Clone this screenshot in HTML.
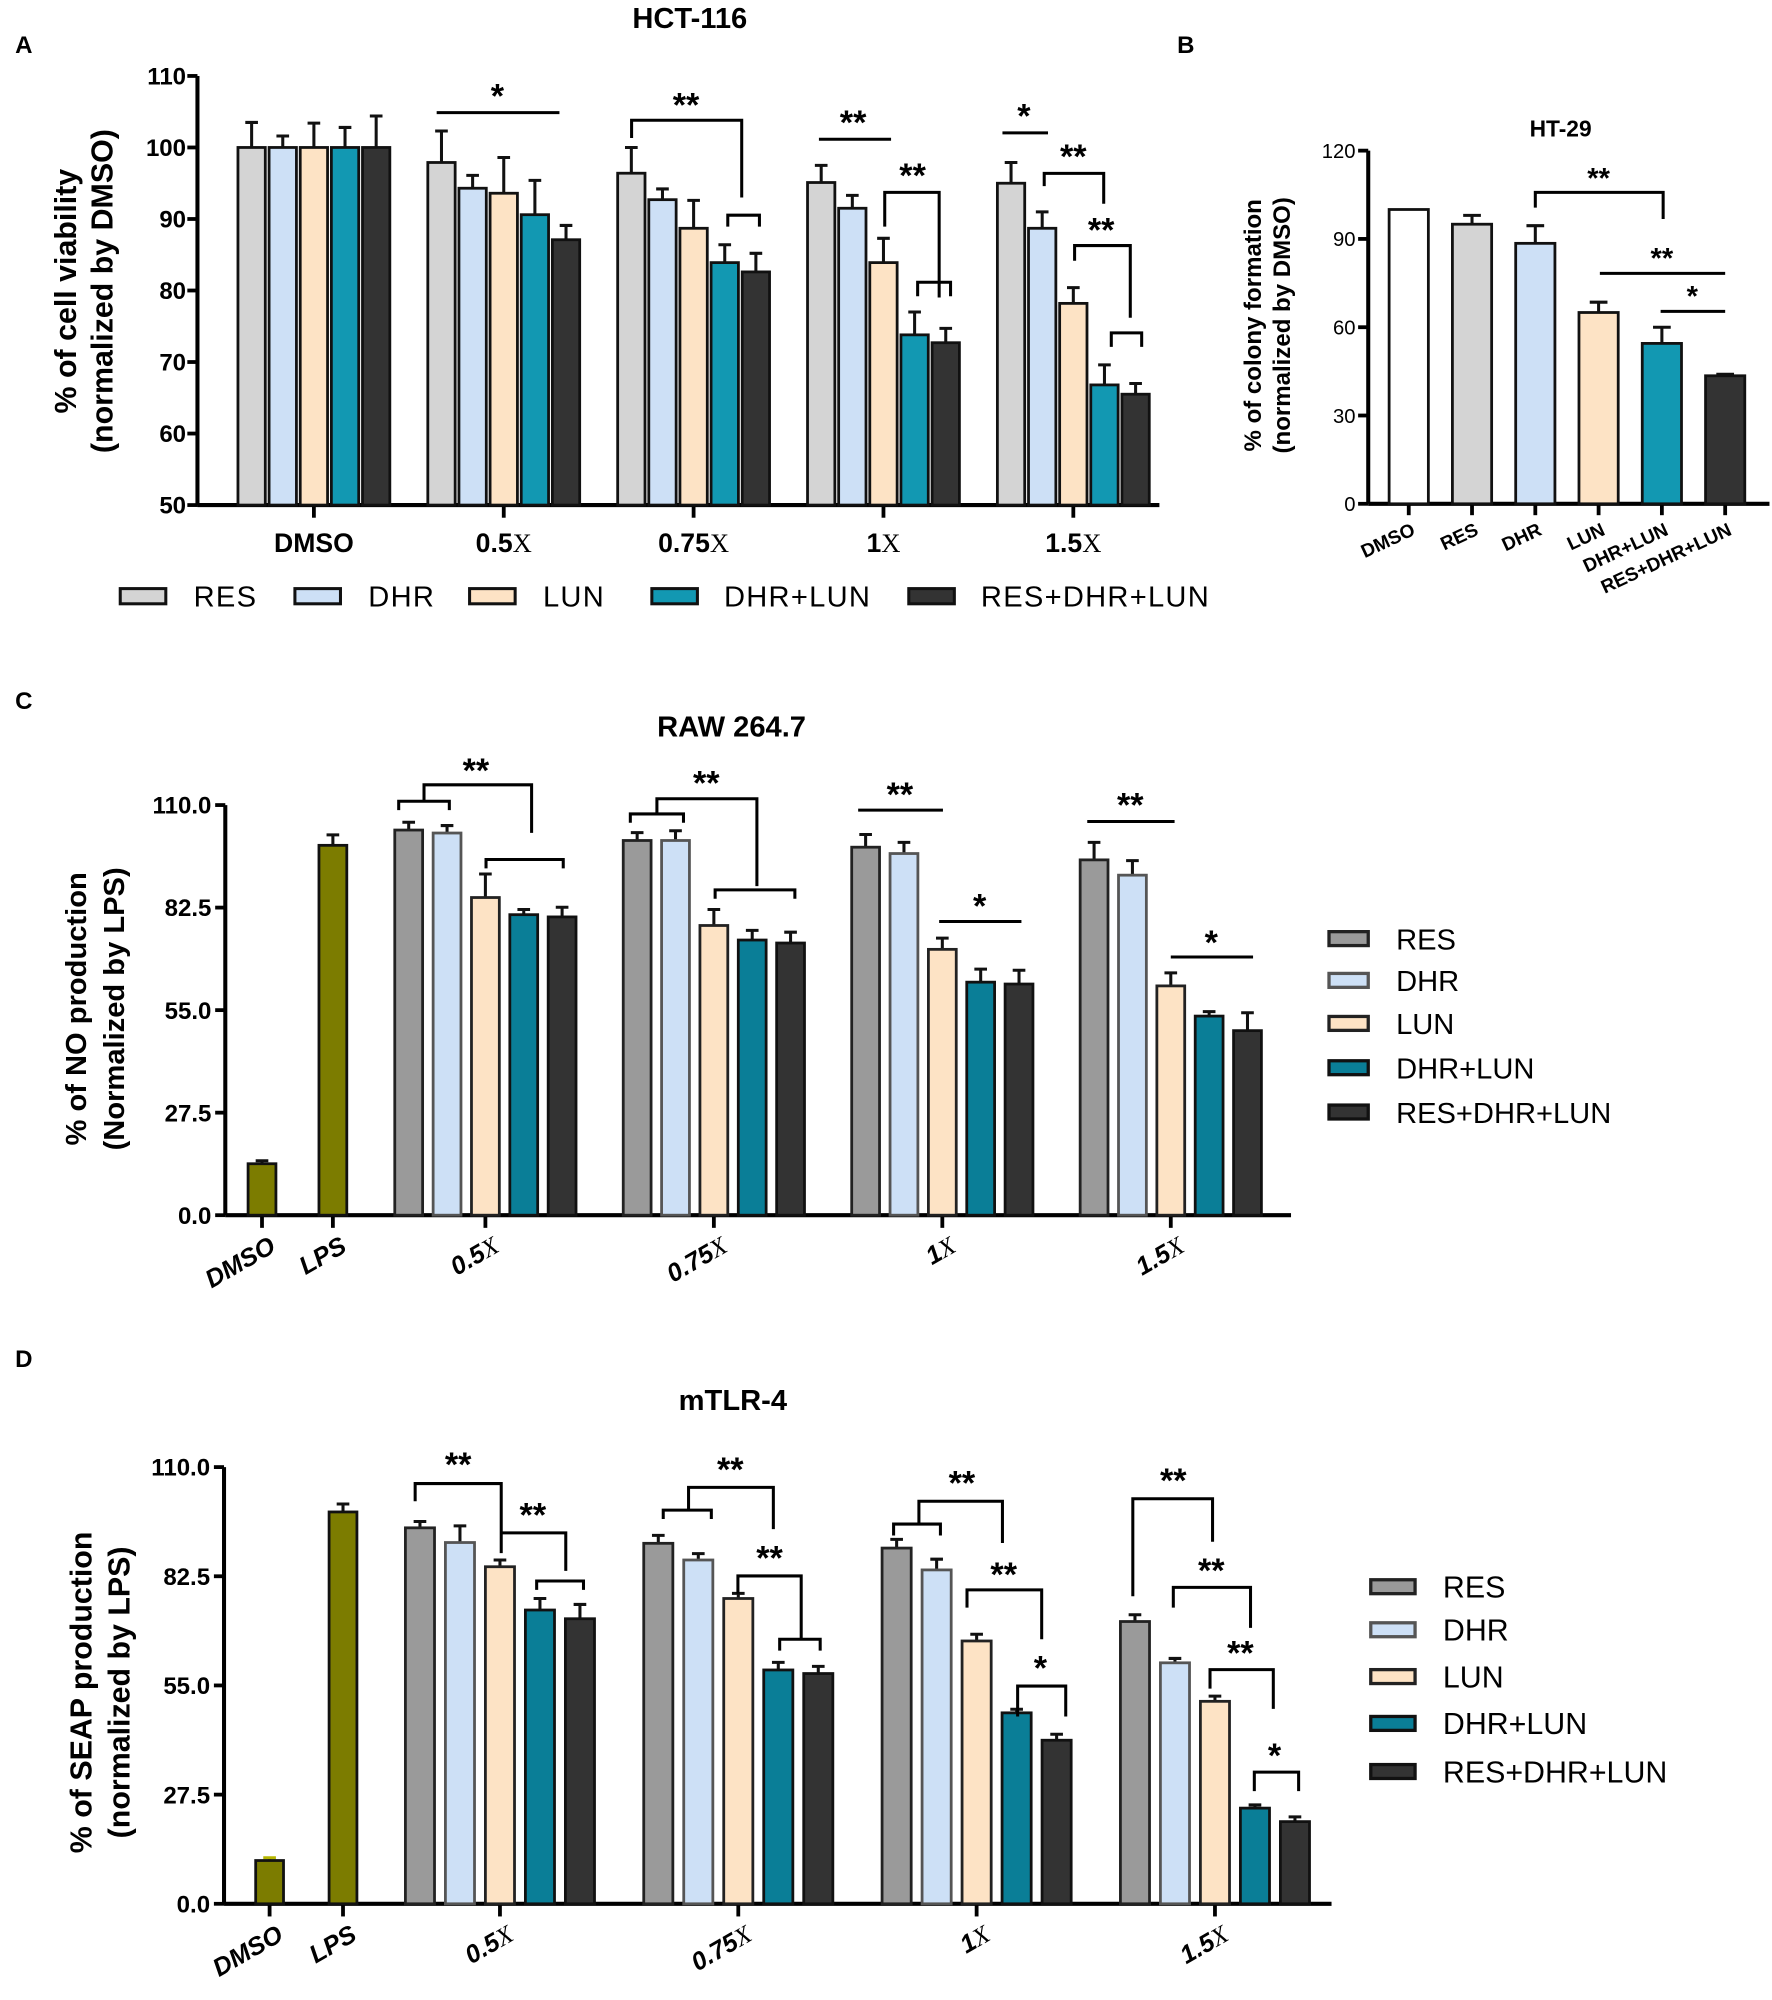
<!DOCTYPE html>
<html><head><meta charset="utf-8"><title>Figure</title>
<style>
html,body{margin:0;padding:0;background:#fff;}
svg{display:block;}
text{font-family:"Liberation Sans",sans-serif;}
</style></head>
<body>
<svg id="fig" xmlns="http://www.w3.org/2000/svg" viewBox="0 0 1400 1580" width="1772" height="2000" preserveAspectRatio="none"></svg>
<script>
// ---------- DATA ----------
const seriesNames = ['RES','DHR','LUN','DHR+LUN','RES+DHR+LUN'];
// Panel A: HCT-116 cell viability
const aGroups = ['DMSO','0.5','0.75','1','1.5'];
const aRES = [100,97.9,96.4,95.1,95];
const aDHR = [100,94.3,92.7,91.5,88.7];
const aLUN = [100,93.6,88.7,83.9,78.2];
const aDL  = [100,90.6,83.9,73.8,66.8];
const aRDL = [100,87.1,82.6,72.7,65.5];
const aRESsd = [3.5,4.4,3.6,2.4,2.9];
const aDHRsd = [1.6,1.8,1.5,1.8,2.3];
const aLUNsd = [3.4,5.0,3.9,3.4,2.2];
const aDLsd  = [2.8,4.8,2.5,3.2,2.8];
const aRDLsd = [4.4,2.0,2.6,2.0,1.5];
const aTicks = [50,60,70,80,90,100,110];
// Panel B: HT-29 colony formation
const bCats = ['DMSO','RES','DHR','LUN','DHR+LUN','RES+DHR+LUN'];
const bVals = [100,95,88.5,65,54.5,43.5];
const bSd   = [0,3,6,3.5,5.5,0.5];
const bTicks = [0,30,60,90,120];
// Panel C: RAW 264.7 NO production
const cCtrlCats = ['DMSO','LPS'];
const cCtrl = [13.8,99.2];
const cCtrlSd = [0.8,2.8];
const cGroups = ['0.5','0.75','1','1.5'];
const cRES = [103.3,100.5,98.7,95.3];
const cDHR = [102.5,100.5,97,91.2];
const cLUN = [85.2,77.7,71.3,61.5];
const cDL  = [80.6,73.8,62.5,53.4];
const cRDL = [80,73,62,49.5];
const cRESsd = [2.1,2.1,3.4,4.7];
const cDHRsd = [2,2.6,3,3.9];
const cLUNsd = [6.3,4.3,3,3.5];
const cDLsd  = [1.4,2.6,3.5,1.2];
const cRDLsd = [2.6,2.9,3.7,4.8];
const cTicks = [0,27.5,55,82.5,110];
// Panel D: mTLR-4 SEAP
const dCtrlCats = ['DMSO','LPS'];
const dCtrl = [10.9,98.7];
const dCtrlSd = [0.7,2];
const dGroups = ['0.5','0.75','1','1.5'];
const dRES = [94.7,90.8,89.6,71.1];
const dDHR = [91,86.6,84.1,60.7];
const dLUN = [84.9,76.9,66.2,51];
const dDL  = [74,58.9,48.1,24.1];
const dRDL = [71.8,58,41.2,20.7];
const dRESsd = [1.6,2,2.2,1.7];
const dDHRsd = [4.2,1.6,2.7,1.1];
const dLUNsd = [1.7,1.3,1.7,1.3];
const dDLsd  = [2.9,1.9,0.9,0.8];
const dRDLsd = [3.6,1.8,1.5,1.2];
const dTicks = [0,27.5,55,82.5,110];

// ---------- DRAWING ----------
const NS='http://www.w3.org/2000/svg';
const svg=document.getElementById('fig');
function el(tag,attrs,parent){const e=document.createElementNS(NS,tag);for(const k in attrs)e.setAttribute(k,attrs[k]);(parent||svg).appendChild(e);return e;}
function txt(s,attrs,parent){const e=el('text',attrs,parent);e.textContent=s;return e;}
function gGroup(name,parent){const g=el('g',{},parent);


return g;}
const colA=['#d4d4d4','#cde0f6','#fde3c5','#1298b2','#333333'];
const colC=['#9a9a9a','#cde0f6','#fde3c5','#0a7e97','#333333'];
const strokeC=['#222','#555','#222','#111','#111'];
const OLIVE='#7c7c00';

function bar(g,cx,w,yv,y0,fill,stroke,name){
  const r=el('rect',{x:cx-w/2,y:Math.min(yv,y0),width:w,height:Math.abs(y0-yv),fill:fill,stroke:stroke,'stroke-width':2.2},g);
  
  
  return r;
}
function errbar(g,cx,ytop,ycap,cap,color){
  if(Math.abs(ytop-ycap)<0.5){return;}
  const p=el('path',{d:`M${cx} ${ytop}V${ycap}M${cx-cap/2} ${ycap}H${cx+cap/2}`,stroke:color||'#111','stroke-width':2.4,fill:'none'},g);
  
  
}
function yAxis(g,x,yTopPx,y0Px,vMin,vMax,ticks,fmt,labX,fs,weight){
  const sy=v=>y0Px-(v-vMin)/(vMax-vMin)*(y0Px-yTopPx);
  const ax=el('path',{d:`M${x} ${yTopPx}V${y0Px}`,stroke:'#000','stroke-width':3.2},g);
  
  
  ticks.forEach(t=>{
    el('path',{d:`M${x-8} ${sy(t)}H${x}`,stroke:'#000','stroke-width':3},g);
    const l=txt(fmt(t),{x:labX,y:sy(t)+fs*0.36,'text-anchor':'end','font-size':fs,'font-weight':weight},g);
    
    
  });
  return sy;
}
function ast(g,s,x,cy,fs){const t=txt(s,{x:x,y:cy+fs*0.55,'text-anchor':'middle','font-size':fs,'font-weight':'bold'},g);

}
function ln(g,d){const p=el('path',{d:d,stroke:'#000','stroke-width':2.4,fill:'none'},g);

}
function yTitle(g,lines,cx,cy,fs,gap,weight){
  const t=el('text',{transform:`translate(${cx},${cy}) rotate(-90)`,'text-anchor':'middle','font-size':fs,'font-weight':weight},g);
  
  
  lines.forEach((s,i)=>{const ts=el('tspan',{x:0,y:(i-(lines.length-1)/2)*gap+fs*0.35},t);ts.textContent=s;});
}
function xLabX(g,num,x,y,fs,rot,italic,anchor){
  const t=el('text',{transform:`translate(${x},${y}) rotate(${rot})`,'text-anchor':anchor,'font-size':fs,'font-weight':'bold','font-style':italic?'italic':'normal'},g);
  
  
  const a=el('tspan',{},t);a.textContent=num;
  if(num!=='DMSO'&&num!=='LPS'){const b=el('tspan',{'font-family':'Liberation Serif, serif','font-weight':'normal'},t);b.textContent='X';}
}

// panel letters & titles
[['A',12,42],['B',930,42],['C',12,560],['D',12,1080]].forEach(([s,x,y])=>{const t=txt(s,{x:x,y:y,'font-size':19,'font-weight':'bold'});

});
[['HCT-116',545,22,23],['HT-29',1233,108,18],['RAW 264.7',578,582,23],['mTLR-4',579,1114,23]].forEach(([s,x,y,f])=>{const t=txt(s,{x:x,y:y,'font-size':f,'font-weight':'bold','text-anchor':'middle'});

});

// ===== Panel A =====
(function(){
  const g=gGroup('panel-a-chart');
  const X0=156,XEND=916,YT=60,Y0=399;
  const sy=yAxis(g,X0,YT,Y0,50,110,aTicks,t=>String(t),147,19,'bold');
  const xa=el('path',{d:`M${X0} ${Y0}H${XEND}`,stroke:'#000','stroke-width':3.2},g);
  
  
  const gx=i=>248+i*150, pitch=24.6, w=21.6;
  const vals=[aRES,aDHR,aLUN,aDL,aRDL], sds=[aRESsd,aDHRsd,aLUNsd,aDLsd,aRDLsd];
  aGroups.forEach((gname,i)=>{
    el('path',{d:`M${gx(i)} ${Y0}v10`,stroke:'#000','stroke-width':3},g);
    vals.forEach((arr,s)=>{
      const cx=gx(i)+(s-2)*pitch;
      errbar(g,cx,sy(arr[i]),sy(arr[i]+sds[s][i]),10);
      bar(g,cx,w,sy(arr[i]),Y0,colA[s],'#111','bar-'+seriesNames[s].toLowerCase().replace(/\+/g,'-')+'-'+gname);
    });
    xLabX(g,gname,gx(i),436,21,0,false,'middle');
  });
  yTitle(g,['% of cell viability','(normalized by DMSO)'],66,230,24,29,'bold');
  // significance
  const an=gGroup('panel-a-significance',g);
  ln(an,'M345 89H442'); ast(an,'*',393,70,27);
  ln(an,'M499 109V95H586V156'); ast(an,'**',542,77,27);
  ln(an,'M575 179V170H600V179');
  ln(an,'M647 110H704'); ast(an,'**',674,91,27);
  ln(an,'M699 179V152H742V235'); ast(an,'**',721,133,27);
  ln(an,'M725 234V223H751V234');
  ln(an,'M792 105H828'); ast(an,'*',809,86,27);
  ln(an,'M825 147V137H872V161'); ast(an,'**',848,118,27);
  ln(an,'M849 206V194H893V251'); ast(an,'**',870,176,27);
  ln(an,'M878 274V263H902V274');
  // legend
  const lx=[95,233,371,515,718], tx=[153,291,429,572,775];
  seriesNames.forEach((n,s)=>{
    const lg=gGroup('legend-entry-'+n.toLowerCase().replace(/\+/g,'-'));
    el('rect',{x:lx[s],y:465,width:36,height:12,fill:colA[s],stroke:'#111','stroke-width':2.4},lg);
    txt(n,{x:tx[s],y:479,'font-size':23,'letter-spacing':1},lg);
  });
})();

// ===== Panel B =====
(function(){
  const g=gGroup('panel-b-chart');
  const X0=1081,XEND=1398,YT=119,Y0=398;
  const sy=yAxis(g,X0,YT,Y0,0,120,bTicks,t=>String(t),1071,16,'normal');
  const xa=el('path',{d:`M${X0} ${Y0}H${XEND}`,stroke:'#000','stroke-width':3.2},g);
  
  
  const colB=['#ffffff','#d4d4d4','#cde0f6','#fde3c5','#1298b2','#333333'];
  const cx=i=>1113+i*50;
  bCats.forEach((c,i)=>{
    el('path',{d:`M${cx(i)} ${Y0}v9`,stroke:'#000','stroke-width':3},g);
    errbar(g,cx(i),sy(bVals[i]),sy(bVals[i]+bSd[i]),14);
    bar(g,cx(i),31,sy(bVals[i]),Y0,colB[i],'#111','bar-'+c.toLowerCase().replace(/\+/g,'-'));
    const t=txt(c,{transform:`translate(${cx(i)+6},${Y0+24}) rotate(-25)`,'text-anchor':'end','font-size':15,'font-weight':'bold'},g);
    
    
  });
  yTitle(g,['% of colony formation','(normalized by DMSO)'],1001,257,19,23,'bold');
  ln(g,'M1213 164V152H1314V173'); ast(g,'**',1263,136,23);
  ln(g,'M1264 216H1363'); ast(g,'**',1313,199,23);
  ln(g,'M1312 246H1363'); ast(g,'*',1337,229,23);
})();

// ===== Panels C & D =====
function panelCD(cfg){
  const g=gGroup(cfg.name);
  const sy=yAxis(g,cfg.X0,cfg.YT,cfg.Y0,0,110,cfg.ticks,t=>t.toFixed(1),cfg.labX,19,'bold');
  const xa=el('path',{d:`M${cfg.X0} ${cfg.Y0}H${cfg.XEND}`,stroke:'#000','stroke-width':3.2},g);
  
  
  cfg.ctrlCats.forEach((c,i)=>{
    const x=cfg.ctrlX[i];
    el('path',{d:`M${x} ${cfg.Y0}v10`,stroke:'#000','stroke-width':3},g);
    errbar(g,x,sy(cfg.ctrl[i]),sy(cfg.ctrl[i]+cfg.ctrlSd[i]),10,i===0&&cfg.name.includes('d')?'#b5b500':'#111');
    bar(g,x,22,sy(cfg.ctrl[i]),cfg.Y0,OLIVE,'#111','bar-'+c.toLowerCase());
    xLabX(g,c,x+12,cfg.Y0+28,20,-30,true,'end');
  });
  cfg.groups.forEach((gname,i)=>{
    const gc=cfg.g0+i*cfg.gstep;
    el('path',{d:`M${gc} ${cfg.Y0}v10`,stroke:'#000','stroke-width':3},g);
    cfg.vals.forEach((arr,s)=>{
      const x=gc+(s-2)*cfg.pitch;
      errbar(g,x,sy(arr[i]),sy(arr[i]+cfg.sds[s][i]),10);
      bar(g,x,cfg.w,sy(arr[i]),cfg.Y0,colC[s],strokeC[s],'bar-'+seriesNames[s].toLowerCase().replace(/\+/g,'-')+'-'+gname);
    });
    xLabX(g,gname,gc+12,cfg.Y0+28,20,-30,true,'end');
  });
  yTitle(g,cfg.ytitle,cfg.ytx,cfg.yty,cfg.ytfs,30,'bold');
  seriesNames.forEach((n,s)=>{
    const lg=gGroup(cfg.name+'-legend-'+n.toLowerCase().replace(/\+/g,'-'));
    el('rect',{x:cfg.lgx,y:cfg.lgy[s]-6,width:cfg.lgw,height:11,fill:colC[s],stroke:strokeC[s],'stroke-width':2.6},lg);
    txt(n,{x:cfg.lgtx,y:cfg.lgy[s]+8,'font-size':cfg.lgfs},lg);
  });
  const an=gGroup(cfg.name+'-significance',g);
  cfg.ann(an);
}
panelCD({name:'panel-c-chart',X0:178,XEND:1020,YT:636,Y0:960,ticks:cTicks,labX:167,
  ctrlCats:cCtrlCats,ctrl:cCtrl,ctrlSd:cCtrlSd,ctrlX:[207,263],
  groups:cGroups,g0:383.5,gstep:180.5,pitch:30.3,w:22,
  vals:[cRES,cDHR,cLUN,cDL,cRDL],sds:[cRESsd,cDHRsd,cLUNsd,cDLsd,cRDLsd],
  ytitle:['% of NO production','(Normalized by LPS)'],ytx:75,yty:797,ytfs:23,
  lgx:1050,lgw:31,lgy:[742,775,809,844,879],lgtx:1103,lgfs:23,
  ann:g=>{
    ln(g,'M315 640V633H355V640'); ln(g,'M335 633V620H420V658'); ast(g,'**',376,603,27);
    ln(g,'M384 686V679H445V686');
    ln(g,'M498 650V643H540V650'); ln(g,'M519 643V631H598V700'); ast(g,'**',558,613,27);
    ln(g,'M565 710V703H628V710');
    ln(g,'M678 640H745'); ast(g,'**',711,622,27);
    ln(g,'M742 728H807'); ast(g,'*',774,710,27);
    ln(g,'M859 649H928'); ast(g,'**',893,630,27);
    ln(g,'M925 756H990'); ast(g,'*',957,739,27);
  }});
panelCD({name:'panel-d-chart',X0:177,XEND:1052,YT:1159,Y0:1504,ticks:dTicks,labX:166,
  ctrlCats:dCtrlCats,ctrl:dCtrl,ctrlSd:dCtrlSd,ctrlX:[213,271],
  groups:dGroups,g0:395,gstep:188.3,pitch:31.6,w:23,
  vals:[dRES,dDHR,dLUN,dDL,dRDL],sds:[dRESsd,dDHRsd,dLUNsd,dDLsd,dRDLsd],
  ytitle:['% of SEAP production','(normalized by LPS)'],ytx:79,yty:1337,ytfs:24,
  lgx:1083,lgw:35,lgy:[1254,1288,1325,1362,1400],lgtx:1140,lgfs:24,
  ann:g=>{
    ln(g,'M328 1186V1172H396V1227'); ast(g,'**',362,1151,27);
    ln(g,'M396 1211H447V1241'); ast(g,'**',421,1191,27);
    ln(g,'M424 1256V1249H461V1256');
    ln(g,'M524 1200V1193H562V1200'); ln(g,'M544 1193V1175H611V1208'); ast(g,'**',577,1155,27);
    ln(g,'M583 1259V1245H633V1294'); ast(g,'**',608,1225,27);
    ln(g,'M616 1304V1295H648V1304');
    ln(g,'M706 1213V1204H743V1213'); ln(g,'M726 1204V1186H792V1219'); ast(g,'**',760,1166,27);
    ln(g,'M764 1270V1256H823V1295'); ast(g,'**',793,1238,27);
    ln(g,'M804 1356V1332H842V1356'); ast(g,'*',822,1312,27);
    ln(g,'M895 1261V1184H958V1218'); ast(g,'**',927,1164,27);
    ln(g,'M927 1270V1254H988V1286'); ast(g,'**',957,1235,27);
    ln(g,'M956 1334V1319H1006V1350'); ast(g,'**',980,1300,27);
    ln(g,'M991 1415V1400H1026V1415'); ast(g,'*',1007,1381,27);
  }});
</script>
</body></html>
